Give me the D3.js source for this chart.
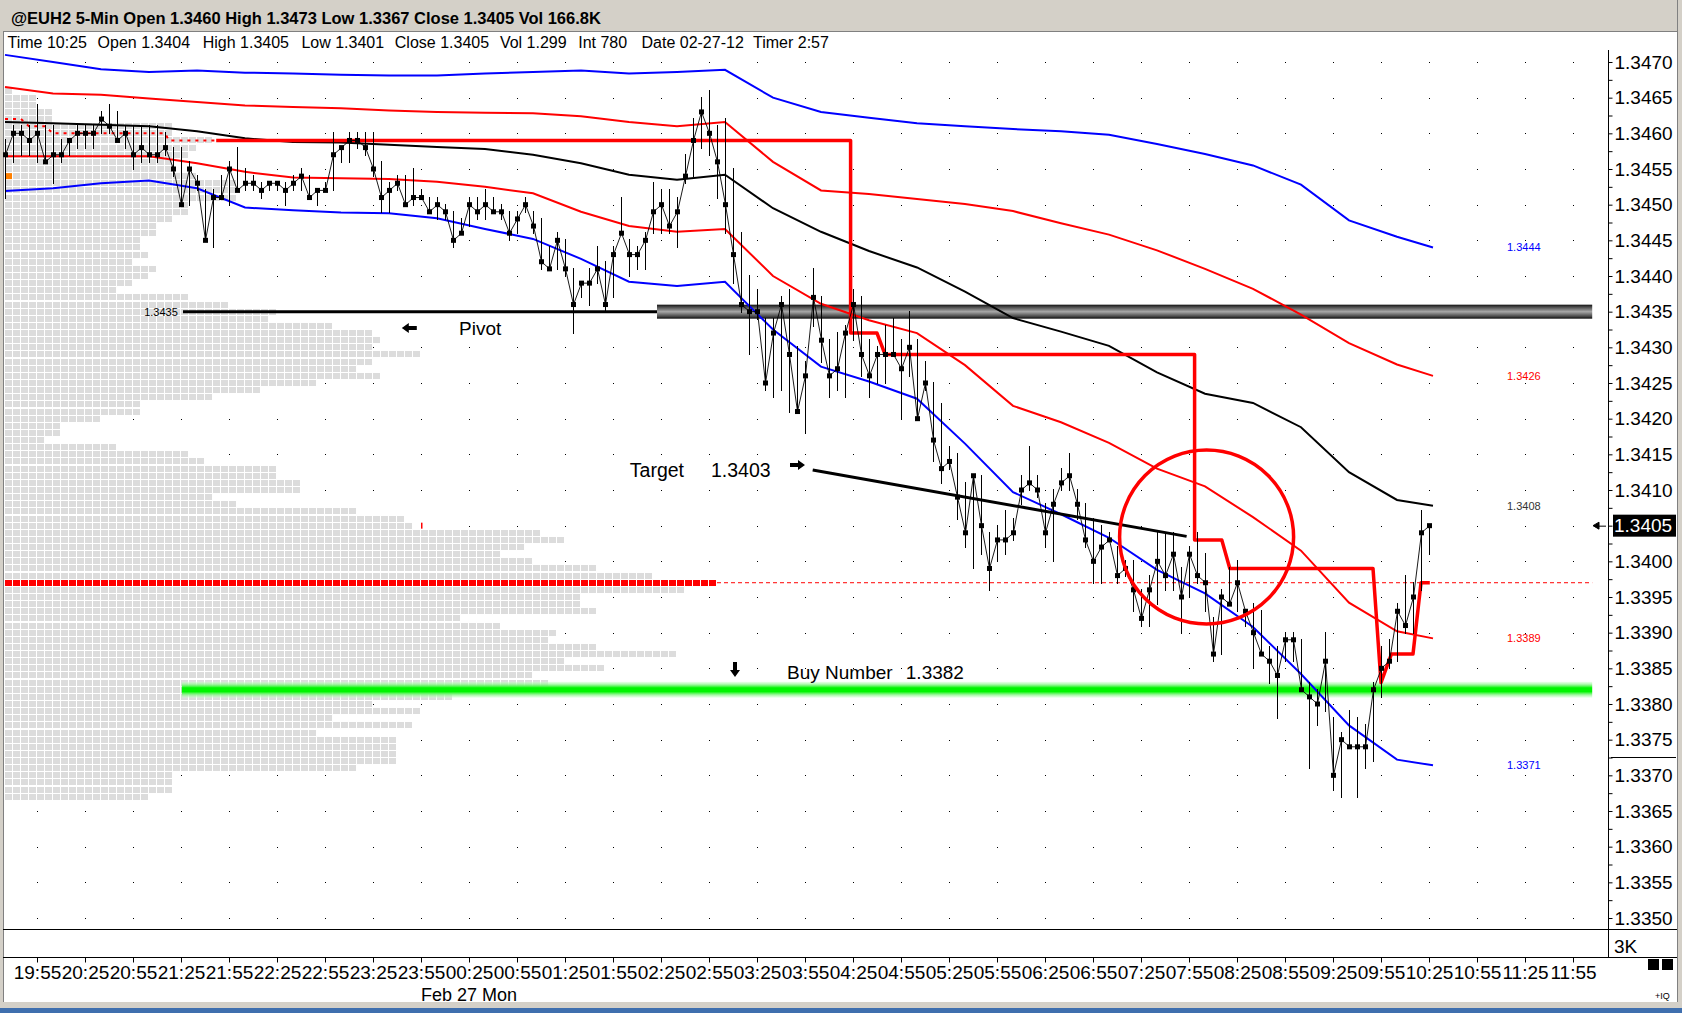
<!DOCTYPE html>
<html>
<head>
<meta charset="utf-8">
<script src="https://cdn.jsdelivr.net/npm/d3@7"></script>
<style>
body { margin: 0; background: #fff; }
svg { display: block; font-family: "Liberation Sans", Arial, sans-serif; }
</style>
</head>
<body>
<script>
// ---- data ----
var timeLabels = ["19:55","20:25","20:55","21:25","21:55","22:25","22:55","23:25","23:55","00:25","00:55",
    "01:25","01:55","02:25","02:55","03:25","03:55","04:25","04:55","05:25","05:55","06:25","06:55",
    "07:25","07:55","08:25","08:55","09:25","09:55","10:25","10:55","11:25","11:55"];
var tickBars = [4,10,16,22,28,34,40,46,52,58,64,70,76,82,88,94,100,106,112,118,124,130,136,142,148,154,160,166,172,178,184,190,196];
var priceLabels = ["1.3470","1.3465","1.3460","1.3455","1.3450","1.3445","1.3440","1.3435","1.3430","1.3425",
    "1.3420","1.3415","1.3410","1.3405","1.3400","1.3395","1.3390","1.3385","1.3380","1.3375","1.3370",
    "1.3365","1.3360","1.3355","1.3350"];

// 5-min bars, 19:35 .. 10:25
var closes = [1.3457,1.3460,1.3460,1.3459,1.3460,1.3456,1.3457,1.3457,1.3459,1.3460,1.3460,1.3460,1.3462,1.3461,1.3459,1.3460,
    1.3457,1.3458,1.3457,1.3457,1.3458,1.3455,1.3450,1.3455,1.3453,1.3445,1.3451,1.3451,1.3455,1.3452,1.3453,1.3453,
    1.3452,1.3453,1.3453,1.3452,1.3453,1.3454,1.3451,1.3452,1.3452,1.3457,1.3458,1.3459,1.3459,1.3458,1.3455,1.3451,
    1.3452,1.3453,1.3450,1.3451,1.3451,1.3449,1.3450,1.3449,1.3445,1.3446,1.3450,1.3449,1.3450,1.3449,1.3449,1.3446,
    1.3448,1.3450,1.3447,1.3442,1.3441,1.3445,1.3441,1.3436,1.3439,1.3439,1.3441,1.3436,1.3443,1.3446,1.3443,1.3443,
    1.3445,1.3449,1.3450,1.3447,1.3449,1.3454,1.3459,1.3463,1.3460,1.3456,1.3450,1.3443,1.3436,1.3435,1.3435,1.3425,
    1.3432,1.3436,1.3429,1.3421,1.3426,1.3437,1.3431,1.3426,1.3427,1.3432,1.3436,1.3429,1.3426,1.3429,1.3429,1.3429,
    1.3427,1.3430,1.3420,1.3425,1.3417,1.3413,1.3414,1.3409,1.3404,1.3412,1.3405,1.3399,1.3403,1.3403,1.3404,1.3410,
    1.3411,1.3410,1.3404,1.3408,1.3411,1.3412,1.3408,1.3403,1.3400,1.3402,1.3403,1.3398,1.3399,1.3396,1.3392,1.3396,
    1.3400,1.3398,1.3401,1.3395,1.3401,1.3398,1.3397,1.3387,1.3395,1.3394,1.3397,1.3393,1.3390,1.3387,1.3386,1.3384,
    1.3389,1.3389,1.3382,1.3381,1.3380,1.3386,1.3370,1.3375,1.3374,1.3374,1.3374,1.3382,1.3385,1.3386,1.3393,1.3391,
    1.3395,1.3404,1.3405];
var highs = [1.3459,1.3461,1.3461,1.3461,1.3464,1.3461,1.3461,1.3459,1.3459,1.3461,1.3461,1.3461,1.3463,1.3464,1.3463,1.3461,
    1.3461,1.3461,1.3461,1.3461,1.3460,1.3458,1.3458,1.3456,1.3454,1.3452,1.3452,1.3454,1.3456,1.3458,1.3455,1.3454,
    1.3453,1.3453,1.3453,1.3453,1.3454,1.3455,1.3454,1.3452,1.3453,1.3460,1.3458,1.3460,1.3460,1.3460,1.3460,1.3456,
    1.3453,1.3454,1.3454,1.3455,1.3452,1.3451,1.3451,1.3450,1.3449,1.3448,1.3451,1.3451,1.3452,1.3451,1.3450,1.3449,
    1.3449,1.3451,1.3449,1.3448,1.3444,1.3446,1.3445,1.3441,1.3439,1.3441,1.3444,1.3442,1.3444,1.3451,1.3445,1.3444,
    1.3446,1.3453,1.3452,1.3452,1.3451,1.3457,1.3462,1.3465,1.3466,1.3461,1.3462,1.3455,1.3446,1.3440,1.3438,1.3434,
    1.3434,1.3437,1.3438,1.3430,1.3428,1.3441,1.3437,1.3431,1.3432,1.3433,1.3438,1.3437,1.3431,1.3430,1.3433,1.3434,
    1.3431,1.3435,1.3431,1.3428,1.3425,1.3422,1.3416,1.3415,1.3411,1.3412,1.3412,1.3404,1.3405,1.3407,1.3406,1.3412,
    1.3416,1.3412,1.3408,1.3410,1.3413,1.3415,1.3410,1.3408,1.3406,1.3405,1.3404,1.3402,1.3400,1.3400,1.3396,1.3398,
    1.3404,1.3404,1.3404,1.3399,1.3402,1.3404,1.3401,1.3392,1.3396,1.3399,1.3400,1.3393,1.3394,1.3393,1.3388,1.3388,
    1.3390,1.3390,1.3389,1.3383,1.3382,1.3390,1.3378,1.3376,1.3379,1.3378,1.3377,1.3383,1.3388,1.3389,1.3394,1.3398,
    1.3397,1.3407,1.3405];
var lows = [1.3451,1.3456,1.3457,1.3457,1.3456,1.3456,1.3453,1.3456,1.3457,1.3458,1.3458,1.3458,1.3460,1.3460,1.3459,1.3458,
    1.3455,1.3456,1.3456,1.3456,1.3457,1.3454,1.3450,1.3450,1.3452,1.3445,1.3444,1.3451,1.3450,1.3452,1.3452,1.3452,
    1.3451,1.3452,1.3452,1.3450,1.3452,1.3452,1.3451,1.3450,1.3452,1.3452,1.3456,1.3456,1.3458,1.3457,1.3454,1.3449,
    1.3449,1.3452,1.3450,1.3450,1.3451,1.3449,1.3448,1.3448,1.3444,1.3446,1.3447,1.3448,1.3448,1.3449,1.3448,1.3445,
    1.3446,1.3449,1.3446,1.3441,1.3441,1.3441,1.3440,1.3432,1.3437,1.3436,1.3439,1.3435,1.3437,1.3446,1.3440,1.3441,
    1.3441,1.3446,1.3446,1.3446,1.3444,1.3453,1.3454,1.3458,1.3457,1.3451,1.3446,1.3439,1.3435,1.3429,1.3434,1.3424,
    1.3423,1.3424,1.3421,1.3421,1.3418,1.3433,1.3428,1.3423,1.3424,1.3423,1.3431,1.3426,1.3423,1.3425,1.3425,1.3429,
    1.3420,1.3426,1.3420,1.3424,1.3414,1.3411,1.3413,1.3406,1.3402,1.3399,1.3401,1.3396,1.3400,1.3401,1.3403,1.3408,
    1.3410,1.3409,1.3402,1.3400,1.3410,1.3410,1.3406,1.3402,1.3397,1.3397,1.3403,1.3397,1.3398,1.3393,1.3391,1.3391,
    1.3394,1.3396,1.3396,1.3390,1.3395,1.3397,1.3393,1.3386,1.3387,1.3394,1.3393,1.3391,1.3385,1.3387,1.3383,1.3378,
    1.3386,1.3386,1.3382,1.3371,1.3377,1.3379,1.3368,1.3367,1.3374,1.3367,1.3371,1.3372,1.3381,1.3385,1.3386,1.3390,
    1.3390,1.3396,1.3401];

// VWAP and bands, sampled at these bar numbers
var bandIdx = [0,6,12,18,24,30,36,42,48,54,60,66,72,78,84,90,96,102,108,114,120,126,132,138,144,150,156,162,168,174,178.5];
var blueUpper = [1.3471,1.3470,1.3469,1.34686,1.34688,1.34685,1.34684,1.34682,1.34681,1.34681,1.34684,1.34686,1.34688,1.34684,1.34686,1.34689,
    1.3465,1.3463,1.34622,1.34614,1.3461,1.34606,1.34603,1.34598,1.34585,1.34571,1.34555,1.34528,1.34478,1.34455,1.3444];
var redUpper = [1.34665,1.34656,1.34654,1.34649,1.34644,1.34639,1.34637,1.34635,1.34632,1.3463,1.34629,1.34628,1.34624,1.34616,1.3461,1.34616,
    1.3456,1.3452,1.34515,1.34508,1.34501,1.34491,1.34474,1.34458,1.34436,1.3441,1.34382,1.34346,1.34306,1.34276,1.3426];
var vwap = [1.34616,1.34614,1.34612,1.3461,1.34603,1.34593,1.34588,1.34587,1.34584,1.34581,1.34578,1.3457,1.34558,1.34542,1.34535,1.34542,
    1.34495,1.34462,1.34435,1.34412,1.34378,1.34341,1.34322,1.34302,1.34265,1.34235,1.34222,1.34188,1.34125,1.34086,1.34078];
var redLower = [1.34568,1.34568,1.34568,1.34568,1.34558,1.34546,1.34538,1.34537,1.34536,1.34532,1.34525,1.34516,1.3449,1.3447,1.34462,1.34466,
    1.3440,1.34361,1.34338,1.3432,1.34275,1.34218,1.34195,1.34166,1.3413,1.34105,1.34062,1.34015,1.33942,1.33902,1.33892];
var blueLower = [1.34519,1.34523,1.3453,1.34534,1.34523,1.34496,1.34492,1.34489,1.34488,1.34481,1.34466,1.34452,1.34424,1.34392,1.34386,1.34392,
    1.34325,1.34273,1.34252,1.34228,1.34165,1.34097,1.34066,1.34033,1.33988,1.33955,1.33908,1.33842,1.3377,1.33722,1.33714];

// stepped stop line [bar, price]
var stopLine = [[26.4,1.3459],[105.7,1.3459],[105.7,1.3432],[109,1.3432],[110,1.3429],[148.7,1.3429],[148.7,1.3403],
    [152.1,1.3403],[153.1,1.3399],[171,1.3399],[172,1.3383],[173.3,1.3387],[176,1.3387],[177,1.3397],[178.1,1.3397]];
var devPoc = [[0,1.3462],[2,1.3462],[3,1.3461],[5,1.3461],[6,1.3460],[20,1.3460],[20.5,1.3459],[26.4,1.3459]];

// volume profile: price level and count of blocks
var profileLevels = [1.3466,1.3465,1.3464,1.3463,1.3462,1.3461,1.3460,1.3459,1.3458,1.3457,1.3456,1.3455,1.3454,1.3453,1.3452,1.3451,
    1.3450,1.3449,1.3448,1.3447,1.3446,1.3445,1.3444,1.3443,1.3442,1.3441,1.3440,1.3439,1.3438,1.3437,1.3436,1.3435,
    1.3434,1.3433,1.3432,1.3431,1.3430,1.3429,1.3428,1.3427,1.3426,1.3425,1.3424,1.3423,1.3422,1.3421,1.3420,1.3419,
    1.3418,1.3417,1.3416,1.3415,1.3414,1.3413,1.3412,1.3411,1.3410,1.3409,1.3408,1.3407,1.3406,1.3405,1.3404,1.3403,
    1.3402,1.3401,1.3400,1.3399,1.3398,1.3397,1.3396,1.3395,1.3394,1.3393,1.3392,1.3391,1.3390,1.3389,1.3388,1.3387,
    1.3386,1.3385,1.3384,1.3383,1.3382,1.3381,1.3380,1.3379,1.3378,1.3377,1.3376,1.3375,1.3374,1.3373,1.3372,1.3371,
    1.3370,1.3369,1.3368,1.3367];
var profileCounts = [1,4,4,6,6,21,21,26,24,23,21,21,24,29,29,29,
    23,23,21,19,19,17,17,18,16,19,18,16,14,23,28,34,
    33,41,46,47,46,52,46,44,47,39,32,26,17,17,12,7,
    7,5,14,23,25,34,34,37,37,26,29,44,50,51,67,70,
    65,62,66,74,81,89,85,72,72,74,57,62,69,68,74,84,
    70,75,66,68,56,56,46,52,41,51,39,49,49,49,49,44,
    21,21,21,18];

var pocLevel = 1.3397, pivotLevel = 1.3435, buyLevel = 1.3382, targetLevel = 1.3403;
var lastPrice = 1.3405;
var targetLine = [[100.96,1.34128],[147.7,1.34035]];

// ---- layout ----
var W = 1682, H = 1013;
var blockW = 8;
var rightEdgeBar = 198.4;

var x = d3.scaleLinear().domain([0, 178]).range([5, 1429]);
var y = d3.scaleLinear().domain([1.3350, 1.3470]).range([918, 62]);

var svg = d3.select("body").append("svg").attr("width", W).attr("height", H);
var defs = svg.append("defs");

function blockPattern(id, color) {
    var p = defs.append("pattern").attr("id", id).attr("patternUnits", "userSpaceOnUse")
        .attr("x", 5).attr("y", 0).attr("width", blockW).attr("height", H);
    p.append("rect").attr("width", blockW - 1).attr("height", H).attr("fill", color);
}
blockPattern("blk", "#dcdcdc");
blockPattern("blkRed", "#ff0000");

function vGradient(id, stops) {
    var g = defs.append("linearGradient").attr("id", id).attr("x1", 0).attr("x2", 0).attr("y1", 0).attr("y2", 1);
    stops.forEach(function (s) {
        g.append("stop").attr("offset", s[0]).attr("stop-color", s[1]).attr("stop-opacity", s[2]);
    });
}
vGradient("greenBar", [[0, "#ccffcc", 0.4], [0.2, "#80f580", 0.85], [0.38, "#00f500", 1], [0.62, "#00f500", 1], [0.8, "#80f580", 0.85], [1, "#ccffcc", 0.4]]);
vGradient("pivotBar", [[0, "#111", 1], [0.15, "#444", 1], [0.5, "#a8a8a8", 1], [0.85, "#444", 1], [1, "#0a0a0a", 1]]);

// window chrome
svg.append("rect").attr("width", W).attr("height", H).attr("fill", "#fff");
svg.append("rect").attr("width", W).attr("height", 32).attr("fill", "#d4d0c8");
svg.append("line").attr("x1", 0).attr("x2", W).attr("y1", 31.5).attr("y2", 31.5).attr("stroke", "#808080");
svg.append("rect").attr("x", 0).attr("y", 0).attr("width", 3).attr("height", H).attr("fill", "#d4d0c8");
svg.append("line").attr("x1", 3.5).attr("x2", 3.5).attr("y1", 32).attr("y2", 1002).attr("stroke", "#808080");
svg.append("rect").attr("x", 1677).attr("y", 0).attr("width", 5).attr("height", H).attr("fill", "#d4d0c8");
svg.append("line").attr("x1", 1677.5).attr("x2", 1677.5).attr("y1", 0).attr("y2", 1002).attr("stroke", "#808080");
svg.append("rect").attr("x", 0).attr("y", 1002).attr("width", W).attr("height", 6).attr("fill", "#d4d0c8");
svg.append("rect").attr("x", 0).attr("y", 1008).attr("width", W).attr("height", 5).attr("fill", "#3f6fae");

svg.append("text").attr("x", 11).attr("y", 24).attr("font-size", 16.5).attr("font-weight", "bold")
    .text("@EUH2 5-Min Open 1.3460 High 1.3473 Low 1.3367 Close 1.3405 Vol 166.8K");

var infoItems = [["Time 10:25", 7.5], ["Open 1.3404", 97.6], ["High 1.3405", 202.7], ["Low 1.3401", 301.4],
    ["Close 1.3405", 394.8], ["Vol 1.299", 499.9], ["Int 780", 578.2], ["Date 02-27-12", 641.5], ["Timer 2:57", 753]];
svg.append("g").selectAll("text").data(infoItems).enter().append("text")
    .attr("x", function (d) { return d[1]; }).attr("y", 48).attr("font-size", 16).text(function (d) { return d[0]; });

var chart = svg.append("g");

// grid dots
var dots = [];
tickBars.forEach(function (b) {
    if (x(b) > 1600) return;
    priceLabels.forEach(function (p) { dots.push([b, +p]); });
});
chart.append("g").selectAll("rect").data(dots).enter().append("rect")
    .attr("x", function (d) { return Math.round(x(d[0])); })
    .attr("y", function (d) { return Math.round(y(d[1])); })
    .attr("width", 1).attr("height", 1).attr("fill", "#000");

// volume profile
chart.append("g").attr("shape-rendering", "crispEdges").selectAll("rect")
    .data(profileLevels.map(function (p, k) { return {p: p, n: profileCounts[k]}; }))
    .enter().append("rect")
    .attr("x", 5)
    .attr("y", function (d) { return Math.round(y(d.p) - 3); })
    .attr("width", function (d) { return d.n * blockW - 1; })
    .attr("height", 6)
    .attr("fill", function (d) { return d.p === pocLevel ? "url(#blkRed)" : "url(#blk)"; });

// POC continuation
chart.append("line").attr("x1", 5 + profileCounts[profileLevels.indexOf(pocLevel)] * blockW).attr("x2", x(rightEdgeBar))
    .attr("y1", y(pocLevel)).attr("y2", y(pocLevel))
    .attr("stroke", "#ff0000").attr("stroke-width", 1).attr("stroke-dasharray", "4,3");

// small markers
chart.append("rect").attr("x", x(0) + 1).attr("y", y(1.3454) - 3).attr("width", 6).attr("height", 6).attr("fill", "#ff8000");
chart.append("rect").attr("x", x(52)).attr("y", y(1.3405) - 3).attr("width", 1.5).attr("height", 6).attr("fill", "#ff0000");

// buy number bar
chart.append("rect").attr("x", x(22.1)).attr("width", x(rightEdgeBar) - x(22.1))
    .attr("y", y(buyLevel) - 8).attr("height", 16).attr("fill", "url(#greenBar)");

// pivot
chart.append("rect").attr("x", x(81.5)).attr("width", x(rightEdgeBar) - x(81.5))
    .attr("y", y(pivotLevel) - 7).attr("height", 14).attr("fill", "url(#pivotBar)");
chart.append("line").attr("x1", x(22.25)).attr("x2", x(81.5)).attr("y1", y(pivotLevel)).attr("y2", y(pivotLevel))
    .attr("stroke", "#000").attr("stroke-width", 3);
chart.append("text").attr("x", x(21.6)).attr("y", y(pivotLevel)).attr("dy", "0.35em").attr("text-anchor", "end")
    .attr("font-size", 11).text(pivotLevel.toFixed(4));

// bands
var bandLine = d3.line().x(function (d) { return x(d[0]); }).y(function (d) { return y(d[1]); });
function band(values, color) {
    chart.append("path").datum(bandIdx.map(function (b, k) { return [b, values[k]]; }))
        .attr("d", bandLine).attr("fill", "none").attr("stroke", color).attr("stroke-width", 2);
}
band(blueUpper, "#0000ff");
band(redUpper, "#ff0000");
band(vwap, "#000000");
band(redLower, "#ff0000");
band(blueLower, "#0000ff");

chart.append("path").datum(devPoc).attr("d", bandLine).attr("fill", "none")
    .attr("stroke", "#ff0000").attr("stroke-width", 2).attr("stroke-dasharray", "3,5");
chart.append("path").datum(stopLine).attr("d", bandLine).attr("fill", "none")
    .attr("stroke", "#ff0000").attr("stroke-width", 3.5).attr("stroke-linejoin", "round");

// target trend line
chart.append("path").datum(targetLine).attr("d", bandLine).attr("stroke", "#000").attr("stroke-width", 3);

// price bars
var bars = closes.map(function (c, i) { return {i: i, c: c, h: highs[i], l: lows[i]}; });
var barG = chart.append("g").attr("shape-rendering", "crispEdges");
barG.selectAll("line").data(bars).enter().append("line")
    .attr("x1", function (d) { return x(d.i) + 0.5; }).attr("x2", function (d) { return x(d.i) + 0.5; })
    .attr("y1", function (d) { return y(Math.max(d.h, d.c)) - 1; })
    .attr("y2", function (d) { return y(Math.min(d.l, d.c)) + 1; })
    .attr("stroke", "#000").attr("stroke-width", 1);
chart.append("path").datum(bars)
    .attr("d", d3.line().x(function (d) { return x(d.i) + 0.5; }).y(function (d) { return y(d.c); }))
    .attr("fill", "none").attr("stroke", "#000").attr("stroke-width", 0.9);
chart.append("g").selectAll("rect").data(bars).enter().append("rect")
    .attr("x", function (d) { return x(d.i) - 2; }).attr("y", function (d) { return y(d.c) - 2.5; })
    .attr("width", 5).attr("height", 5).attr("fill", "#000");

// circle
chart.append("circle").attr("cx", x(150.2)).attr("cy", y(1.34034)).attr("r", 87)
    .attr("fill", "none").attr("stroke", "#ff0000").attr("stroke-width", 3.5);

// annotations
function arrow(tipX, tipY, angle) {
    chart.append("path").attr("d", "M0,0 L7,-5 L7,-2 L15,-2 L15,2 L7,2 L7,5 Z")
        .attr("transform", "translate(" + tipX + "," + tipY + ") rotate(" + angle + ")").attr("fill", "#000");
}
arrow(x(49.6), y(1.34327), 0);
chart.append("text").attr("x", x(56.75)).attr("y", y(1.34327)).attr("dy", "0.36em").attr("font-size", 19).text("Pivot");

chart.append("text").attr("x", x(78.1)).attr("y", y(1.34128)).attr("dy", "0.36em").attr("font-size", 19.5).text("Target");
chart.append("text").attr("x", x(88.25)).attr("y", y(1.34128)).attr("dy", "0.36em").attr("font-size", 19.5).text(targetLevel.toFixed(4));
arrow(x(100), y(1.34135), 180);

arrow(x(91.25), y(1.33838), -90);
chart.append("text").attr("x", x(97.75)).attr("y", y(1.33845)).attr("dy", "0.36em").attr("font-size", 19).text("Buy Number");
chart.append("text").attr("x", x(112.6)).attr("y", y(1.33845)).attr("dy", "0.36em").attr("font-size", 19).text(buyLevel.toFixed(4));

// end-of-band labels
var endLabels = [[blueUpper, "#0000ff"], [redUpper, "#ff0000"], [vwap, "#333333"], [redLower, "#ff0000"], [blueLower, "#0000ff"]];
chart.append("g").selectAll("text").data(endLabels).enter().append("text")
    .attr("x", 1507).attr("y", function (d) { return y(d[0][d[0].length - 1]); }).attr("dy", "0.35em")
    .attr("font-size", 11).attr("fill", function (d) { return d[1]; })
    .text(function (d) { return d[0][d[0].length - 1].toFixed(4); });

// frame lines
svg.append("line").attr("x1", 3).attr("x2", 1677).attr("y1", 929.5).attr("y2", 929.5).attr("stroke", "#000");
svg.append("line").attr("x1", 3).attr("x2", 1677).attr("y1", 957.5).attr("y2", 957.5).attr("stroke", "#000");
svg.append("line").attr("x1", 1608.5).attr("x2", 1608.5).attr("y1", 50).attr("y2", 957).attr("stroke", "#000");

// y axis
var yTicks = d3.range(0, 49).map(function (k) { return 1.3350 + k * 0.00025; });
var yAxis = d3.axisRight(y).tickValues(yTicks).tickSize(4).tickPadding(2)
    .tickFormat(function (d) { var s = d.toFixed(4); return priceLabels.indexOf(s) >= 0 ? s : ""; });
var yG = svg.append("g").attr("transform", "translate(1608.5,0)").call(yAxis);
yG.select(".domain").remove();
yG.selectAll("text").attr("font-size", 19).attr("font-family", "Liberation Sans, Arial, sans-serif").attr("fill", "#000");
yG.selectAll("line").attr("stroke", "#000");
svg.append("line").attr("x1", 1611).attr("x2", 1676).attr("y1", Math.round(y(1.33726)) + 0.5).attr("y2", Math.round(y(1.33726)) + 0.5).attr("stroke", "#000");

// last price box
svg.append("rect").attr("x", 1613).attr("y", y(lastPrice) - 11).attr("width", 63).attr("height", 22).attr("fill", "#000");
svg.append("text").attr("x", 1614).attr("y", y(lastPrice)).attr("dy", "0.35em").attr("font-size", 19).attr("fill", "#fff")
    .text(lastPrice.toFixed(4));
svg.append("path").attr("d", "M1593," + y(lastPrice) + " l6,-3.5 v7 z M1597," + (y(lastPrice) + 0.5) + " h9")
    .attr("stroke", "#000").attr("fill", "#000").attr("stroke-width", 1);

svg.append("text").attr("x", 1614).attr("y", 953).attr("font-size", 19).text("3K");

// x axis
var xAxis = d3.axisBottom(x).tickValues(tickBars).tickSize(5).tickPadding(3)
    .tickFormat(function (d, i) { return timeLabels[i]; });
var xG = svg.append("g").attr("transform", "translate(0,957.5)").call(xAxis);
xG.select(".domain").remove();
xG.selectAll("text").attr("font-size", 19).attr("font-family", "Liberation Sans, Arial, sans-serif").attr("fill", "#000");
xG.selectAll("line").attr("stroke", "#000");
svg.append("text").attr("x", 421).attr("y", 1000.5).attr("font-size", 18).text("Feb 27 Mon");

svg.append("rect").attr("x", 1648).attr("y", 959).attr("width", 11).attr("height", 11).attr("fill", "#000");
svg.append("rect").attr("x", 1662).attr("y", 959).attr("width", 11).attr("height", 11).attr("fill", "#000");
svg.append("text").attr("x", 1655).attr("y", 999).attr("font-size", 9).text("+IQ");
</script>
</body>
</html>
